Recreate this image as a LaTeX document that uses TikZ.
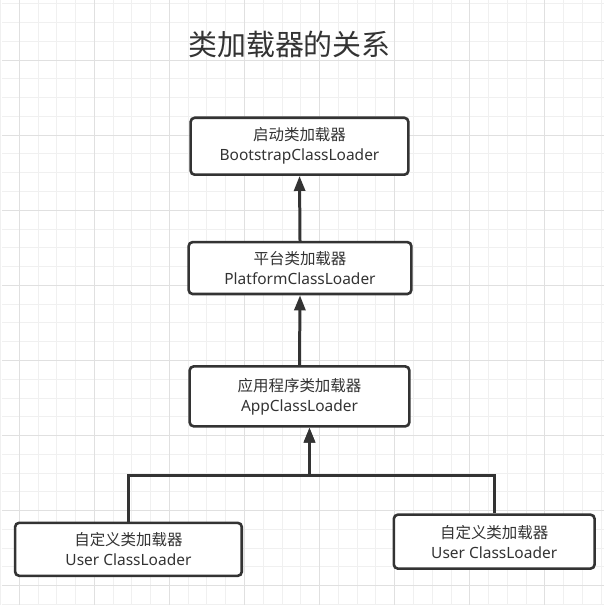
\documentclass[tikz,border=0pt]{standalone}
\usepackage{fontspec}
\setmainfont{Noto Sans}
\newfontfamily\cjk{Noto Sans CJK SC}
\usetikzlibrary{arrows.meta}

\definecolor{inkgray}{HTML}{333333}
\definecolor{gridminor}{HTML}{F0F0F0}
\definecolor{gridmajor}{HTML}{E0E0E0}

\begin{document}
\begin{tikzpicture}[
  x=1pt, y=-1pt,
  %--- loader boxes ---
  loader/.style={draw=inkgray, line width=2.6pt, rounded corners=4pt, fill=white,
    align=center, text=inkgray, font=\fontsize{15.5}{20}\selectfont, inner sep=0pt},
  %--- arrows ---
  arr/.style={-{Triangle[length=15pt, width=11pt]}, line width=3pt, draw=inkgray},
  %--- grid ---
  minorline/.style={draw=gridminor, line width=0.9pt},
  majorline/.style={draw=gridmajor, line width=0.9pt},
  titlelabel/.style={font=\cjk\fontsize{29}{34}\selectfont, text=inkgray}
]

%% ── BACKGROUND GRID ─────────────────────────────────────────────────────────
\fill[white] (0,0) rectangle (603,605);
\foreach \k in {-1,...,31}
  \draw[minorline] ({17.3+18.8*\k},0) -- ({17.3+18.8*\k},605);
\foreach \k in {0,...,32}
  \draw[minorline] (0,{3.3+18.8*\k}) -- (603,{3.3+18.8*\k});
\foreach \k in {0,...,7}
  \draw[majorline] ({17.3+75.2*\k},0) -- ({17.3+75.2*\k},605);
\foreach \k in {0,...,7}
  \draw[majorline] (0,{59.7+75.2*\k}) -- (603,{59.7+75.2*\k});
\useasboundingbox (0,0) rectangle (603,605);

%% ── TITLE ───────────────────────────────────────────────────────────────────
\node[titlelabel] (title) at (288,44) {类加载器的关系};

%% ── LOADERS ─────────────────────────────────────────────────────────────────
\node[loader, minimum width=218pt, minimum height=57pt] (boot) at (298,146)
  {{\cjk 启动类加载器}\\BootstrapClassLoader};
\node[loader, minimum width=223pt, minimum height=52pt] (platform) at (298.5,268)
  {{\cjk 平台类加载器}\\PlatformClassLoader};
\node[loader, minimum width=220pt, minimum height=60pt] (app) at (298,396.5)
  {{\cjk 应用程序类加载器}\\AppClassLoader};
\node[loader, minimum width=227pt, minimum height=53pt] (user1) at (126.7,549.7)
  {{\cjk 自定义类加载器}\\User ClassLoader};
\node[loader, minimum width=201pt, minimum height=54pt] (user2) at (493,542)
  {{\cjk 自定义类加载器}\\User ClassLoader};

%% ── ARROWS: parent delegation ───────────────────────────────────────────────
\coordinate (joint) at (308,476);
\draw[arr] (platform.north) -- (boot.south);
\draw[arr] (app.north) -- (platform.south);
\draw[arr, rounded corners=0pt] (user1.north) |- (joint) -- (joint |- app.south);
\draw[arr, rounded corners=0pt] (user2.north) |- (joint) -- (joint |- app.south);
\end{tikzpicture}
\end{document}
